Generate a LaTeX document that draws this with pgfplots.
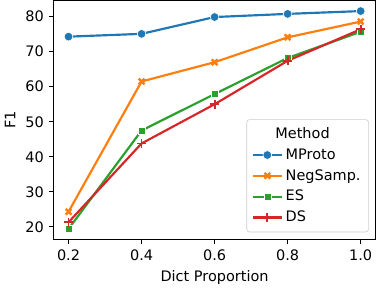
\documentclass[border=0pt]{standalone}
\usepackage{pgfplots}
\pgfplotsset{compat=1.18}
\usepackage{fontspec}
\setmainfont{DejaVu Sans}
\definecolor{tabblue}{HTML}{1F77B4}
\definecolor{taborange}{HTML}{FF7F0E}
\definecolor{tabgreen}{HTML}{2CA02C}
\definecolor{tabred}{HTML}{D62728}
\begin{document}
\begin{tikzpicture}
\begin{axis}[
  scale only axis, width=222pt, height=165pt,
  xmin=0.16, xmax=1.04, ymin=16.4, ymax=84.6,
  xtick={0.2,0.4,0.6,0.8,1.0}, ytick={20,30,40,50,60,70,80},
  xticklabels={0.2,0.4,0.6,0.8,1.0},
  /pgf/number format/assume math mode=true,
  tick label style={font=\fontsize{10}{12}\selectfont},
  label style={font=\fontsize{10}{12}\selectfont},
  xlabel={Dict Proportion}, ylabel={F1},
  tick align=outside, major tick length=3.5pt,
  xtick pos=bottom, ytick pos=left,
  axis line style={line width=0.8pt}, every tick/.style={black, line width=0.8pt},
  legend cell align=left,
  legend style={at={(0.98,0.03)}, anchor=south east, draw=black!20, rounded corners=2pt,
    fill=white, font=\fontsize{10}{12}\selectfont, row sep=1.5pt, inner sep=3.5pt},
  legend image code/.code={\draw[mark repeat=2,mark phase=2] plot coordinates {(0cm,0cm)(0.35cm,0cm)(0.7cm,0cm)};},
  every axis plot/.append style={line width=1.5pt},
]
\addlegendimage{empty legend}
\addlegendentry{\hspace{-0.25cm}Method}
\addplot[tabblue, mark=*, mark size=3pt, mark options={draw=white, line width=0.4pt, fill=tabblue}]
  coordinates {(0.2,74.3)(0.4,75.1)(0.6,79.9)(0.8,80.8)(1.0,81.6)};
\addlegendentry{MProto}
\addplot[taborange, mark=x, mark size=2.8pt, mark options={line width=1.7pt}]
  coordinates {(0.2,24.3)(0.4,61.5)(0.6,67.0)(0.8,74.1)(1.0,78.6)};
\addlegendentry{NegSamp.}
\addplot[tabgreen, mark=square*, mark size=2.4pt, mark options={draw=white, line width=0.4pt, fill=tabgreen}]
  coordinates {(0.2,19.4)(0.4,47.5)(0.6,57.9)(0.8,68.2)(1.0,75.7)};
\addlegendentry{ES}
\addplot[tabred, mark=+, mark size=3pt, mark options={line width=1.3pt}]
  coordinates {(0.2,21.3)(0.4,43.8)(0.6,55.0)(0.8,67.4)(1.0,76.4)};
\addlegendentry{DS}
\end{axis}
\end{tikzpicture}
\end{document}
